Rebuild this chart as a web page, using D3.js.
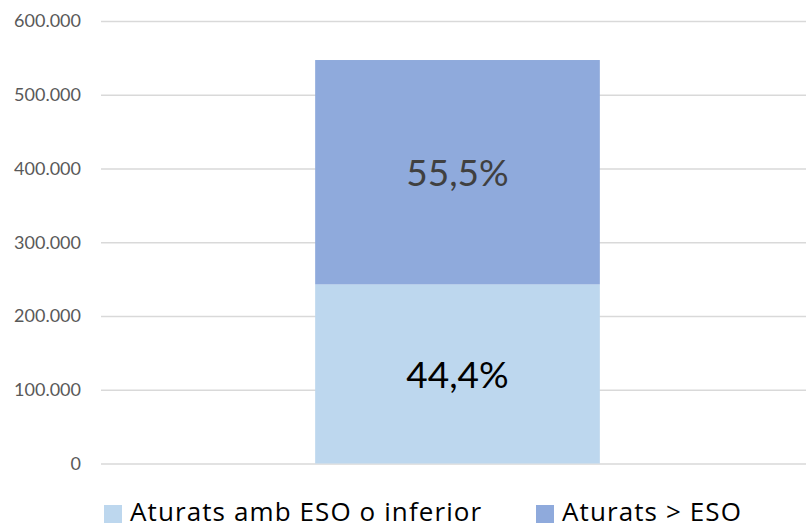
<!DOCTYPE html>
<html>
<head>
<meta charset="utf-8">
<script src="https://cdn.jsdelivr.net/npm/d3@7"></script>
<style>
  body { margin: 0; background: #fff; }
  svg { display: block; font-family: Lato, "Open Sans", sans-serif; }
</style>
</head>
<body>
<div id="chart"></div>
<script>
// data
const categories = [""];
const seriesNames = ["Aturats amb ESO o inferior", "Aturats > ESO"];
const lowerValues = [242800];
const upperValues = [304300];
const pctLabels = [["44,4%"], ["55,5%"]];
const yTicks = [0, 100000, 200000, 300000, 400000, 500000, 600000];

const colors = ["#BDD7EE", "#8FAADC"];
const labelColors = ["#000000", "#404040"];

const W = 807, H = 529;
const svg = d3.select("#chart").append("svg")
  .attr("width", W).attr("height", H);

const rows = categories.map((c, i) => ({ cat: c, s0: lowerValues[i], s1: upperValues[i] }));
const stack = d3.stack().keys(["s0", "s1"])(rows);

const y = d3.scaleLinear().domain([0, 600000]).range([463.5, 21]);
const x = d3.scaleBand().domain(categories).range([109, 806]).padding(0.42);

const fmt = v => v === 0 ? "0" : d3.format(",")(v).replace(/,/g, ".");

// gridlines
svg.append("g")
  .attr("transform", "translate(101,0)")
  .call(d3.axisLeft(y).tickValues(yTicks).tickSize(-705).tickFormat(""))
  .call(g => g.select(".domain").remove())
  .call(g => g.selectAll("line").attr("stroke", "#d9d9d9").attr("stroke-width", 1.3));

// y labels
svg.append("g")
  .attr("transform", "translate(81,0)")
  .call(d3.axisLeft(y).tickValues(yTicks).tickSize(0).tickPadding(0).tickFormat(fmt))
  .call(g => g.select(".domain").remove())
  .call(g => g.selectAll("text")
    .attr("fill", "#595959")
    .style("font-size", "18px")
    .style("font-family", "Lato, sans-serif"));

// bars
stack.forEach((layer, li) => {
  svg.append("g").selectAll("rect")
    .data(layer)
    .join("rect")
    .attr("x", d => x(d.data.cat))
    .attr("width", x.bandwidth())
    .attr("y", d => y(d[1]))
    .attr("height", d => y(d[0]) - y(d[1]))
    .attr("fill", colors[li]);

  svg.append("g").selectAll("text")
    .data(layer)
    .join("text")
    .attr("x", d => x(d.data.cat) + x.bandwidth() / 2)
    .attr("y", d => (y(d[0]) + y(d[1])) / 2 + 14)
    .attr("text-anchor", "middle")
    .attr("fill", labelColors[li])
    .style("font-size", "37px")
    .text((d, i) => pctLabels[li][i]);
});

// legend
const legendX = [104, 536];
const legend = svg.append("g").selectAll("g")
  .data(seriesNames)
  .join("g")
  .attr("transform", (d, i) => `translate(${legendX[i]},505)`);

legend.append("rect")
  .attr("width", 18).attr("height", 18)
  .attr("fill", (d, i) => colors[i]);

legend.append("text")
  .attr("x", 26)
  .attr("y", 16)
  .attr("fill", "#000")
  .style("font-family", "'Open Sans', sans-serif")
  .style("font-size", "26px")
  .style("letter-spacing", "1.1px")
  .text(d => d);
</script>
</body>
</html>
